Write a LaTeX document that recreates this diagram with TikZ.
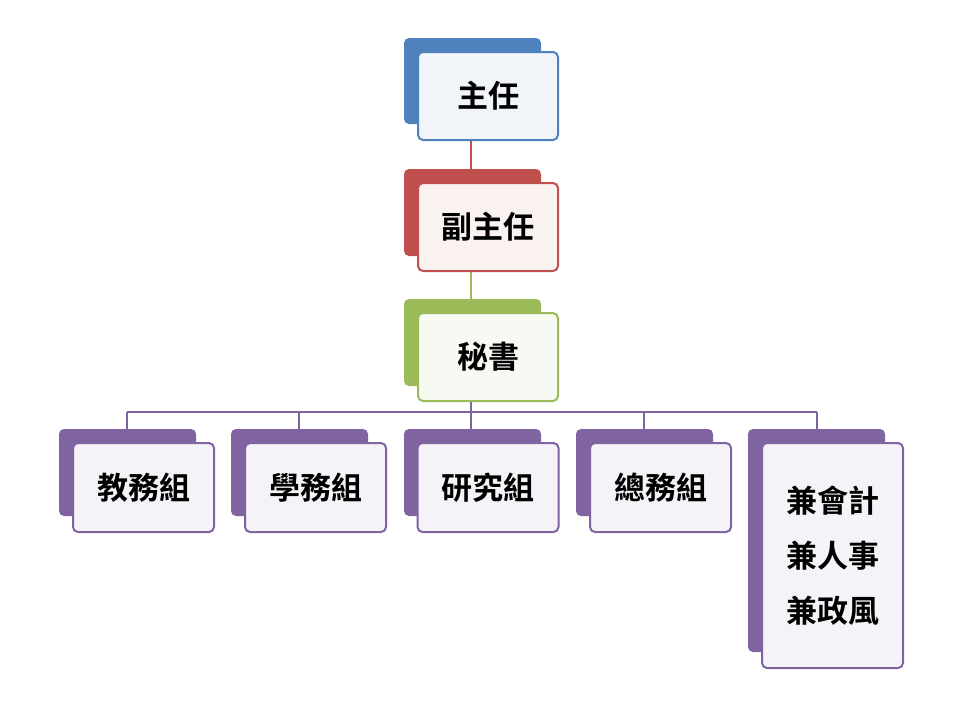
\documentclass[tikz,border=0pt]{standalone}
\usepackage{fontspec}
\newfontfamily\cjk{Noto Sans CJK TC}[BoldFont={Noto Sans CJK TC Bold}]
\definecolor{cb}{HTML}{4F81BD}
\definecolor{cr}{HTML}{C0504D}
\definecolor{cg}{HTML}{9BBB59}
\definecolor{cp}{HTML}{8064A2}
\begin{document}
\begin{tikzpicture}[x=1pt,y=-1pt,
  back/.style={fill=#1,rounded corners=5pt,draw=none,inner sep=0pt},
  front/.style={fill=#1!8!white,draw=#1,line width=2pt,rounded corners=5pt,inner sep=0pt,
    font=\cjk\bfseries\fontsize{31}{50}\selectfont,align=center},
  conn/.style={draw=#1,line width=2pt}]
\useasboundingbox (0,0) rectangle (960,720);
% connectors
\coordinate (b1) at (471,124);
\coordinate (b2) at (471,169);
\coordinate (b3) at (471,256);
\coordinate (b4) at (471,299);
\coordinate (b5) at (471,386);
\coordinate (bus) at (471,412);
\coordinate (busL) at (127,412);
\coordinate (busR) at (817,412);
\draw[conn=cr] (b1) -- (b2);
\draw[conn=cg] (b3) -- (b4);
\draw[conn=cp] (b5) -- (bus);
\draw[conn=cp] (busL) -- (busR);
\foreach \x/\n in {127/a,299/b,471/c,644/d,817/e}{
  \draw[conn=cp] (\x,412) -- (\x,430);
}
% boxes
\node[back=cb,minimum width=137pt,minimum height=86pt] (k1) at (472.5,81) {};
\node[front=cb,minimum width=140pt,minimum height=88pt] (f1) at (488,96) {主任};
\node[back=cr,minimum width=137pt,minimum height=87pt] (k2) at (472.5,212.5) {};
\node[front=cr,minimum width=140pt,minimum height=88pt] (f2) at (488,227) {副主任};
\node[back=cg,minimum width=137pt,minimum height=87pt] (k3) at (472.5,342.5) {};
\node[front=cg,minimum width=140pt,minimum height=88pt] (f3) at (488,357) {秘書};
\foreach \bx/\fx/\t/\n in {127.5/143.5/教務組/a,299.5/315.5/學務組/b,472.5/488/研究組/c,644.5/660.5/總務組/d}{
  \node[back=cp,minimum width=137pt,minimum height=87pt] (k\n) at (\bx,472.5) {};
  \node[front=cp,minimum width=141pt,minimum height=89pt] (f\n) at (\fx,487.5) {\t};
}
\node[back=cp,minimum width=137pt,minimum height=223pt] (ke) at (816.5,540.5) {};
\node[front=cp,minimum width=141pt,minimum height=225pt,font=\cjk\bfseries\fontsize{31}{55}\selectfont] (fe) at (832.5,555.5) {兼會計\\兼人事\\兼政風};
\end{tikzpicture}
\end{document}
